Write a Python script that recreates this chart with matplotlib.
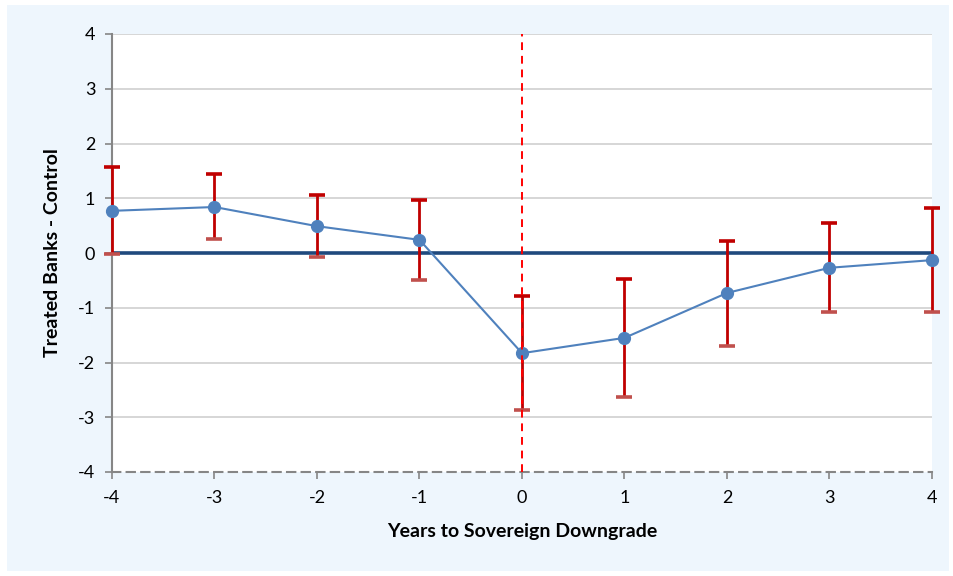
import numpy as np
import matplotlib.pyplot as plt
from matplotlib.patches import Rectangle

# Data
years = [-4, -3, -2, -1, 0, 1, 2, 3, 4]
estimate = [0.77, 0.84, 0.49, 0.24, -1.83, -1.55, -0.73, -0.27, -0.13]
upper = [1.57, 1.44, 1.06, 0.97, -0.79, -0.47, 0.22, 0.55, 0.82]
lower = [-0.02, 0.26, -0.07, -0.49, -2.87, -2.63, -1.70, -1.08, -1.08]

plt.rcParams['font.family'] = ['Lato', 'DejaVu Sans']

fig = plt.figure(figsize=(9.54, 5.76), dpi=100)
fig.patch.set_facecolor("white")
fig.patches.append(Rectangle((7 / 954, 5 / 576), 942 / 954, 566 / 576,
                             transform=fig.transFigure, facecolor="#eef6fd",
                             edgecolor="none", zorder=-10))

ax = fig.add_axes([112 / 954, 104 / 576, 820 / 954, 438 / 576])
ax.set_facecolor("white")

# horizontal grid
for y in range(-3, 5):
    ax.axhline(y, color="#d0d0d0", lw=1.2, zorder=1)

# zero reference line
ax.axhline(0, color="#1f497d", lw=2.6, zorder=2)

# confidence intervals
ax.vlines(years, lower, upper, color="#c00000", lw=2, zorder=3, clip_on=False)
ax.plot(years, upper, linestyle="none", marker="_", markersize=11,
        markeredgewidth=2.6, color="#c00000", zorder=3, clip_on=False)
ax.plot(years, lower, linestyle="none", marker="_", markersize=11,
        markeredgewidth=2.6, color="#c0504d", zorder=3, clip_on=False)

# point estimates
ax.plot(years, estimate, color="#4f81bd", lw=1.5, marker="o",
        markersize=8.5, zorder=4, clip_on=False)

# downgrade year
ax.axvline(0, color="#ff0000", lw=1.4, linestyle=(0, (4, 3)), zorder=5)

ax.set_xlim(-4, 4)
ax.set_ylim(-4, 4)
ax.set_xticks(years)
ax.set_xticklabels([str(y) for y in years])
ax.set_yticks(range(-4, 5))
ax.set_yticklabels([str(y) for y in range(-4, 5)])

for s in ["top", "right"]:
    ax.spines[s].set_visible(False)
ax.spines["left"].set_color("#868686")
ax.spines["left"].set_linewidth(1.5)
ax.spines["bottom"].set_color("#868686")
ax.spines["bottom"].set_linewidth(1.5)
ax.spines["bottom"].set_linestyle((0, (4, 3)))

ax.tick_params(axis="both", colors="#868686", length=5, width=1.2,
               labelsize=13, labelcolor="black")
ax.tick_params(axis="y", pad=7)
ax.tick_params(axis="x", pad=8)

ax.set_xlabel("Years to Sovereign Downgrade", fontsize=14, fontweight="bold",
              labelpad=12)
ax.set_ylabel("Treated Banks - Control", fontsize=14, fontweight="bold",
              labelpad=12)

fig.savefig("out.png", dpi=100, facecolor=fig.get_facecolor())
